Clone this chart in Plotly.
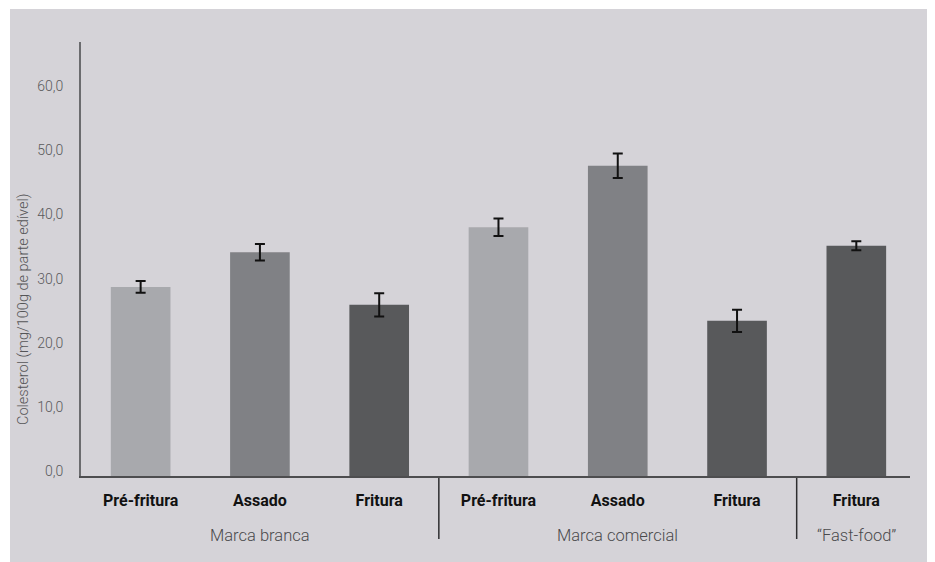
import plotly.graph_objects as go

# ---- data ----
categories = ["Pré-fritura", "Assado", "Fritura", "Pré-fritura", "Assado", "Fritura", "Fritura"]
groups = ["Marca branca", "Marca comercial", "\u201cFast-food\u201d"]
group_sizes = [3, 3, 1]
values = [29.5, 34.9, 26.7, 38.8, 48.4, 24.2, 35.9]
errors = [0.9, 1.3, 1.8, 1.35, 1.9, 1.75, 0.7]
bar_colors = ["#a8a9ad", "#808185", "#58595b", "#a8a9ad", "#808185", "#58595b", "#58595b"]
y_ticks = [0, 10, 20, 30, 40, 50, 60]
y_tick_labels = ["0,0", "10,0", "20,0", "30,0", "40,0", "50,0", "60,0"]
y_title = "Colesterol (mg/100g de parte edível)"

xpos = list(range(len(categories)))

fig = go.Figure()
fig.add_trace(go.Bar(
    x=xpos, y=values,
    marker=dict(color=bar_colors, line=dict(width=0)),
    width=0.5,
    error_y=dict(type="data", array=errors, visible=True, color="#111111", thickness=2, width=5),
    showlegend=False,
    hoverinfo="skip",
))

OFF = 8  # page body margin
W, H = 935 - OFF, 562 - OFF
L, T = 81 - OFF, 42 - OFF
R = W - (910 - OFF)
B = H - (476 - OFF)
pw, ph = W - L - R, H - T - B

def px_x(p):
    return (p - OFF - L) / pw

def px_y(p):
    return (H - B - (p - OFF)) / ph

shapes = [
    dict(type="rect", xref="paper", yref="paper", x0=px_x(10), x1=px_x(932), y0=px_y(570), y1=px_y(9),
         fillcolor="#d5d3d8", line=dict(width=0), layer="below"),
]
start = 0
annotations = []
for gi, (g, n) in enumerate(zip(groups, group_sizes)):
    center = start + (n - 1) / 2
    annotations.append(dict(x=center, xref="x", y=px_y(535), yref="paper", text=g, showarrow=False,
                            font=dict(family="Roboto", size=16.5, color="#4a4a4c", weight=300),
                            xanchor="center", yanchor="middle"))
    if gi < len(groups) - 1:
        xd = start + n - 0.5
        shapes.append(dict(type="line", xref="x", yref="paper", x0=xd, x1=xd, y0=px_y(478), y1=px_y(539),
                           line=dict(color="#2e2e30", width=1.5)))
    start += n

annotations.append(dict(x=px_x(23), xref="paper", y=px_y(310), yref="paper", text=y_title, textangle=-90,
                        showarrow=False, font=dict(family="Roboto", size=14.5, color="#555557", weight=300),
                        xanchor="center", yanchor="middle"))

fig.update_layout(
    width=W, height=H,
    margin=dict(l=L, r=R, t=T, b=B, pad=0),
    paper_bgcolor="white",
    plot_bgcolor="rgba(0,0,0,0)",
    font=dict(family="Roboto", color="#555557"),
    shapes=shapes,
    annotations=annotations,
    bargap=0.5,
    xaxis=dict(
        range=[-0.5, len(categories) - 0.55],
        tickvals=xpos,
        ticktext=[f"<b>{c}</b>" for c in categories],
        tickfont=dict(family="Roboto", size=16, color="#111111"),
        showgrid=False, zeroline=False,
        showline=True, linecolor="#4d4d4f", linewidth=1.5,
        ticks="", ticklabelstandoff=9,
        fixedrange=True,
    ),
    yaxis=dict(
        range=[0, 67.7],
        tickvals=y_ticks,
        ticktext=y_tick_labels,
        tickfont=dict(family="Roboto", size=14, color="#5a5a5c", weight=300),
        showgrid=False, zeroline=False,
        showline=True, linecolor="#6b6b6e", linewidth=2,
        ticks="", ticklabelstandoff=13, ticklabelshift=-5,
        fixedrange=True,
    ),
)

fig.write_html("out.html")
